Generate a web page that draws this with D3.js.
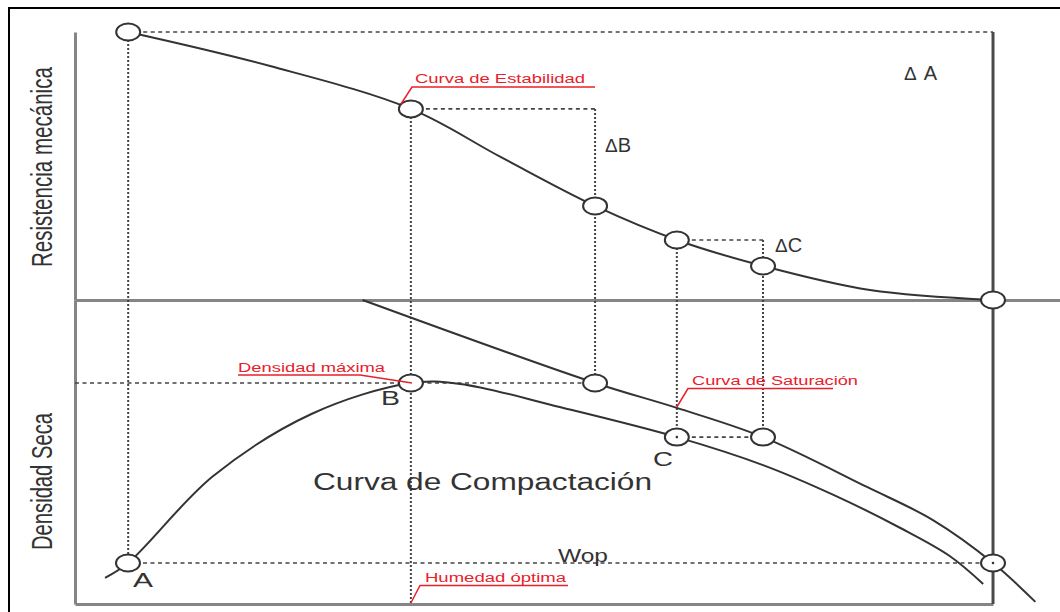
<!DOCTYPE html>
<html>
<head>
<meta charset="utf-8">
<script src="https://cdn.jsdelivr.net/npm/d3@7"></script>
<style>
  body { margin: 0; background: #fff; }
  svg { display: block; }
</style>
</head>
<body>
<svg id="chart" width="1060" height="612"></svg>
<script>
// x: humedad (0-100), top panel: resistencia (0-100), bottom panel: densidad seca (0-100)
const stabilityX = [5.4, 19.8, 34.1, 43.2, 52.8, 61.1, 69.85, 80.7, 93.2];
const stabilityY = [100, 87.3, 71.3, 53.4, 35.1, 22.4, 12.7, 3.7, 0];

const compactionX = [3.05, 5.38, 14.0, 24.0, 34.1, 39.1, 49.2, 61.1, 69.85, 77.0, 83.8, 88.8, 92.2];
const compactionY = [8.6, 13.5, 42.0, 62.5, 72.7, 72.4, 64.8, 54.9, 45.7, 35.9, 25.0, 15.8, 6.6];

const saturationX = [29.2, 52.8, 61.1, 69.85, 80.4, 87.1, 93.2, 97.5];
const saturationY = [100, 72.7, 64.5, 54.9, 38.5, 27.6, 13.5, 0.7];

const topMarkersX = [5.4, 34.1, 52.8, 61.1, 69.85, 93.2];
const topMarkersY = [100, 71.3, 35.1, 22.4, 12.7, 0];
const bottomMarkersX = [5.38, 34.1, 52.8, 61.1, 69.85, 93.2];
const bottomMarkersY = [13.5, 72.7, 72.7, 54.9, 54.9, 13.5];

const pointLabels = ["A", "B", "C"];
const deltaLabels = ["A", "B", "C"];
const axisTitles = ["Resistencia mecánica", "Densidad Seca"];
const calloutLabels = ["Curva de Estabilidad", "Densidad máxima", "Curva de Saturación", "Humedad óptima"];
const curveTitle = "Curva de Compactación";
const wopLabel = "Wop";

const svg = d3.select("#chart");
const x = d3.scaleLinear().domain([0, 100]).range([75, 1060]);
const yTop = d3.scaleLinear().domain([0, 100]).range([300, 32]);
const yBot = d3.scaleLinear().domain([0, 100]).range([604, 300]);

const ink = "#333";
const red = "#e8202a";

// outer frame
svg.append("rect")
  .attr("x", 9).attr("y", 8).attr("width", 1100).attr("height", 700)
  .attr("fill", "none").attr("stroke", "#000").attr("stroke-width", 2);

// axes (no ticks)
const axisStyle = (g) => {
  g.select(".domain").attr("stroke", "#858585").attr("stroke-width", 3);
  g.selectAll(".tick").remove();
};
svg.append("g").attr("transform", `translate(${x(0)},0)`)
  .call(d3.axisLeft(yTop).tickValues([]).tickSizeOuter(0)).call(axisStyle);
svg.append("g").attr("transform", `translate(${x(0)},0)`)
  .call(d3.axisLeft(yBot).tickValues([]).tickSizeOuter(0)).call(axisStyle);
svg.append("g").attr("transform", `translate(0,${yTop(0)})`)
  .call(d3.axisBottom(x).tickValues([]).tickSizeOuter(0)).call(axisStyle);
svg.append("g").attr("transform", `translate(0,${yBot(0)})`)
  .call(d3.axisBottom(d3.scaleLinear().domain([0, 93.2]).range([x(0), x(93.2)])).tickValues([]).tickSizeOuter(0))
  .call(axisStyle);

// right vertical limit
svg.append("line")
  .attr("x1", x(93.2)).attr("x2", x(93.2)).attr("y1", yTop(100)).attr("y2", yBot(0))
  .attr("stroke", "#4a4a4a").attr("stroke-width", 3);

// guide lines
const guides = svg.append("g").attr("fill", "none").attr("stroke", "#444");
const hDash = (x1, x2, yy) => guides.append("line")
  .attr("x1", x(x1)).attr("x2", x(x2)).attr("y1", yy).attr("y2", yy)
  .attr("stroke-width", 1.6).attr("stroke-dasharray", "4,3.5");
const vDot = (xx, y1, y2) => guides.append("line")
  .attr("x1", x(xx)).attr("x2", x(xx)).attr("y1", y1).attr("y2", y2)
  .attr("stroke-width", 2).attr("stroke-dasharray", "2,2");

hDash(5.4, 93.2, yTop(100));
hDash(34.1, 52.8, yTop(71.3));
hDash(61.1, 69.85, yTop(22.4));
hDash(0, 52.8, yBot(72.7));
hDash(61.1, 69.85, yBot(54.9));
hDash(5.38, 93.2, yBot(13.5));

vDot(5.4, yTop(100), yBot(13.5));
vDot(34.1, yTop(71.3), yBot(0));
vDot(52.8, yTop(71.3), yBot(72.7) - 9);
vDot(61.1, yTop(22.4), yBot(54.9));
vDot(69.85, yTop(22.4), yBot(54.9));

// curves
const curve = (xs, ys, yScale) => svg.append("path")
  .datum(xs.map((d, i) => [d, ys[i]]))
  .attr("fill", "none").attr("stroke", ink).attr("stroke-width", 2)
  .attr("d", d3.line().x((d) => x(d[0])).y((d) => yScale(d[1])).curve(d3.curveCatmullRom.alpha(0.5)));

curve(stabilityX, stabilityY, yTop);
curve(saturationX, saturationY, yBot);
curve(compactionX, compactionY, yBot);

// markers
const markers = (xs, ys, yScale) => svg.append("g").selectAll("ellipse")
  .data(xs.map((d, i) => [d, ys[i]]))
  .join("ellipse")
  .attr("cx", (d) => x(d[0])).attr("cy", (d) => yScale(d[1]))
  .attr("rx", 12).attr("ry", 8.5)
  .attr("fill", "#fff").attr("stroke", ink).attr("stroke-width", 2);

markers(topMarkersX, topMarkersY, yTop);
markers(bottomMarkersX, bottomMarkersY, yBot);

// dotted guides visible through a couple of markers
[[52.8, 35.1], [69.85, 12.7]].forEach(([mx, my]) => vDot(mx, yTop(my) - 9, yTop(my) + 9).raise());
[[61.1, 54.9], [93.2, 13.5]].forEach(([mx, my]) =>
  svg.append("circle").attr("cx", x(mx)).attr("cy", yBot(my)).attr("r", 1.3).attr("fill", ink));

// text helpers
const text = (str, tx, ty, size, len, color, extra) => {
  const t = svg.append("text")
    .attr("x", tx).attr("y", ty)
    .attr("font-family", "Liberation Sans, Arial, sans-serif")
    .attr("font-size", size).attr("fill", color || ink)
    .text(str);
  if (len) t.attr("textLength", len).attr("lengthAdjust", "spacingAndGlyphs");
  if (extra) extra(t);
  return t;
};

// axis titles (rotated, squeezed to the reference length)
const sideTitle = (str, baseX, bottomY, len) => {
  const t = text(str, 0, 0, 29, null);
  const natural = t.node().getComputedTextLength();
  t.attr("transform", `translate(${baseX},${bottomY}) rotate(-90) scale(${len / natural},1)`);
};
sideTitle(axisTitles[0], 52, 267, 200);
sideTitle(axisTitles[1], 52, 550, 137);

// main curve title
text(curveTitle, 313, 490, 23, 339);
text(wopLabel, 558, 562, 18, 50);

// point letters
text(pointLabels[0], 133, 587, 20, 20);
text(pointLabels[1], 381, 405, 20, 19);
text(pointLabels[2], 653, 466, 20, 20);

// delta labels
const delta = (letter, tx, ty, gap) => {
  const t = text("", tx, ty, 20, null);
  t.append("tspan").attr("font-size", 19).text("\u0394");
  t.append("tspan").attr("dx", gap).text(letter);
};
delta(deltaLabels[0], 904, 80, 7);
delta(deltaLabels[1], 605, 152, 0);
delta(deltaLabels[2], 775, 252, 0);

// red callouts
const callout = (str, tx, ty, len, pts) => {
  text(str, tx, ty, 12.5, len, red);
  svg.append("path")
    .attr("d", d3.line()(pts))
    .attr("fill", "none").attr("stroke", red).attr("stroke-width", 1.5);
};
callout(calloutLabels[0], 415, 83, 170, [[595, 87], [412, 87], [401, 104]]);
callout(calloutLabels[1], 238, 372, 147, [[238, 375], [360, 375], [412, 383]]);
callout(calloutLabels[2], 692, 385, 166, [[833, 388.5], [688, 388.5], [x(61.1), 407]]);
callout(calloutLabels[3], 425, 582, 141, [[568, 585.5], [420, 585.5], [x(34.1), 603]]);
</script>
</body>
</html>
